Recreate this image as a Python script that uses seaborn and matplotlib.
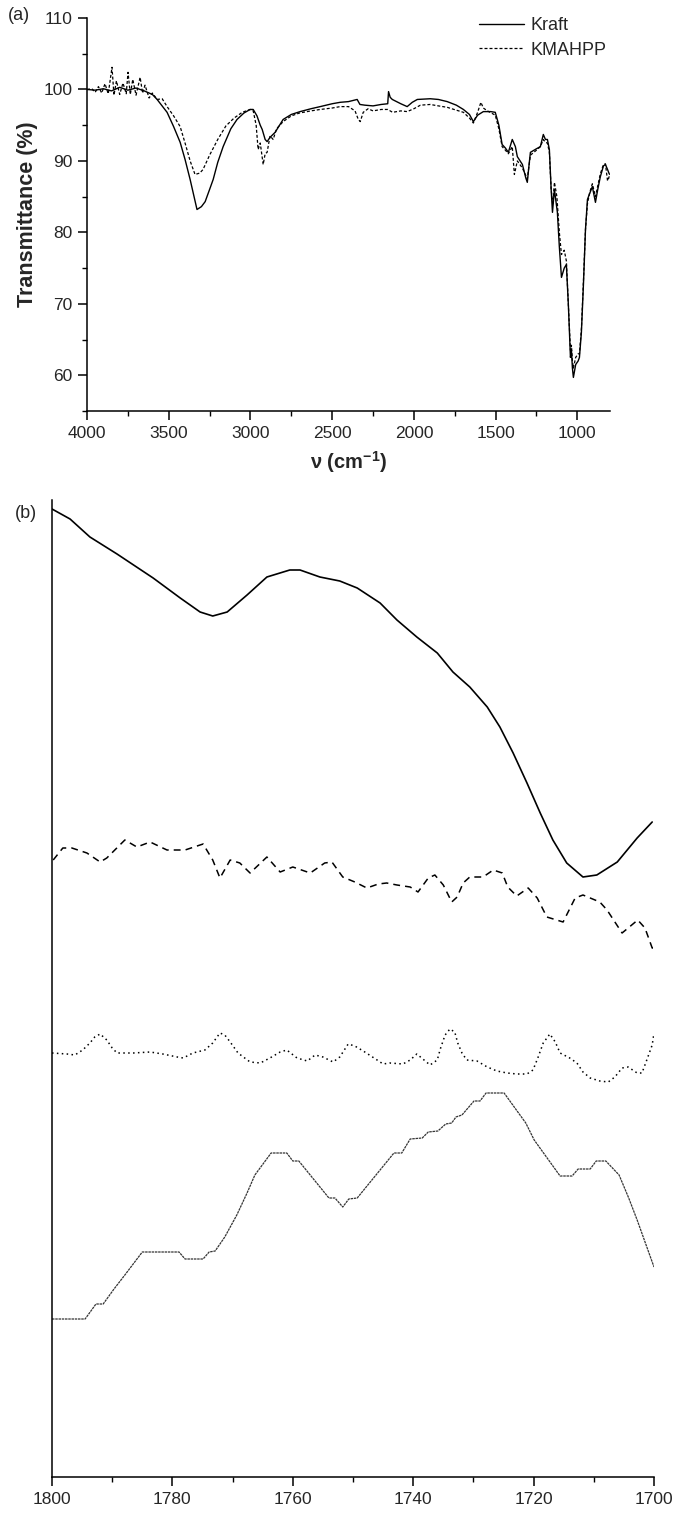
import numpy as np
import pandas as pd
import matplotlib
matplotlib.use("Agg")
import matplotlib.pyplot as plt
from matplotlib.ticker import MultipleLocator
import seaborn as sns

# ---------------- Panel (a) data: FTIR spectra ----------------
kraft_wn = [4000, 3950, 3900, 3850, 3800, 3750, 3700, 3650, 3600, 3571, 3510, 3470, 3430, 3400,
            3369, 3340, 3327, 3300, 3277, 3250, 3228, 3200, 3167, 3120, 3082, 3040, 3002, 2983,
            2960, 2940, 2928, 2910, 2898, 2880, 2849, 2800, 2750, 2696, 2630, 2573, 2500, 2451,
            2400, 2347, 2330, 2300, 2250, 2200, 2160, 2155, 2145, 2132, 2080, 2041, 2010, 1979,
            1900, 1850, 1796, 1740, 1697, 1660, 1636, 1610, 1575, 1530, 1502, 1480, 1460, 1440,
            1422, 1398, 1379, 1367, 1336, 1315, 1306, 1295, 1287, 1250, 1226, 1208, 1195, 1183,
            1171, 1160, 1152, 1140, 1122, 1110, 1097, 1080, 1067, 1055, 1042, 1036, 1030, 1024,
            1010, 995, 987, 975, 962, 950, 938, 925, 908, 889, 875, 859, 840, 828, 815, 805, 800]
kraft_t = [100.0, 99.9, 100.1, 99.8, 100.3, 99.9, 100.2, 99.8, 99.3, 98.6, 96.8, 94.8, 92.6, 90.2,
           87.4, 84.5, 83.2, 83.6, 84.3, 86.0, 87.4, 89.8, 92.0, 94.5, 95.8, 96.7, 97.2, 97.2,
           96.3, 95.0, 94.4, 93.0, 92.7, 93.3, 94.0, 95.8, 96.5, 96.9, 97.3, 97.6, 98.0, 98.2,
           98.3, 98.6, 97.9, 97.8, 97.7, 97.9, 98.0, 99.7, 98.9, 98.6, 98.0, 97.6, 98.2, 98.6,
           98.7, 98.6, 98.3, 97.8, 97.2, 96.5, 95.5, 96.4, 96.9, 96.9, 96.8, 95.0, 92.3, 91.8,
           91.2, 93.0, 92.0, 90.6, 89.5, 87.6, 87.0, 89.5, 91.2, 91.7, 92.0, 93.7, 93.0, 93.0,
           91.6, 86.0, 82.8, 86.0, 82.8, 78.0, 73.7, 75.0, 75.5, 70.0, 62.5, 63.5, 61.0, 59.7,
           61.5, 62.0, 62.5, 66.0, 73.0, 80.4, 84.6, 85.4, 86.4, 84.2, 86.0, 87.8, 89.3, 89.5,
           88.8, 88.2, 88.1]

kmahpp_wn = [4000, 3970, 3950, 3930, 3910, 3890, 3870, 3847, 3835, 3820, 3800, 3780, 3760, 3749,
             3735, 3720, 3700, 3675, 3660, 3645, 3620, 3600, 3571, 3540, 3510, 3470, 3430, 3400,
             3369, 3339, 3310, 3290, 3250, 3200, 3150, 3100, 3050, 3002, 2983, 2965, 2953, 2940,
             2922, 2910, 2898, 2880, 2861, 2840, 2800, 2750, 2700, 2630, 2573, 2500, 2451, 2400,
             2360, 2340, 2328, 2310, 2280, 2250, 2200, 2160, 2130, 2080, 2041, 2000, 1960, 1900,
             1850, 1796, 1740, 1697, 1660, 1636, 1610, 1590, 1575, 1550, 1502, 1480, 1460, 1440,
             1422, 1398, 1385, 1367, 1336, 1306, 1287, 1250, 1226, 1208, 1195, 1183, 1171, 1160,
             1150, 1140, 1125, 1110, 1097, 1080, 1067, 1055, 1042, 1036, 1030, 1024, 1010, 995,
             987, 975, 962, 950, 938, 925, 908, 889, 875, 859, 840, 828, 815, 805, 800]
kmahpp_t = [100.0, 100.1, 99.6, 100.4, 99.5, 100.8, 99.4, 103.1, 99.2, 101.2, 99.3, 100.9, 99.4, 102.4,
            99.3, 101.4, 99.2, 101.7, 99.5, 100.6, 98.8, 99.5, 98.6, 98.7, 97.6, 96.3, 94.8, 92.5,
            90.0, 88.1, 88.3, 88.8, 90.8, 93.0, 94.9, 96.0, 96.8, 97.2, 97.0, 95.0, 91.6, 92.5,
            89.5, 91.0, 91.2, 93.5, 93.0, 94.5, 95.5, 96.3, 96.7, 97.0, 97.2, 97.4, 97.6, 97.6,
            97.0, 95.8, 95.5, 96.8, 97.3, 97.0, 97.2, 97.2, 96.8, 97.0, 96.9, 97.3, 97.8, 97.9,
            97.7, 97.5, 97.1, 96.8, 96.0, 95.3, 96.8, 98.2, 97.4, 97.0, 96.4, 94.5, 92.0, 91.5,
            91.0, 92.0, 88.1, 90.0, 89.0, 87.5, 90.8, 91.5, 92.0, 93.0, 92.6, 92.5, 91.2, 86.0,
            84.0, 87.0, 85.0, 80.0, 76.9, 77.5, 76.0, 70.0, 63.5, 64.2, 62.0, 61.0, 62.5, 63.0,
            63.0, 66.5, 73.5, 80.4, 84.0, 85.5, 86.8, 85.0, 86.5, 88.2, 89.5, 89.6, 87.2, 87.8, 87.5]

series_a = ["Kraft", "KMAHPP"]

# ---------------- Panel (b) data: 1800-1700 cm-1 region (arbitrary offset units) ----------------
b1_wn = [1800.0, 1797.0, 1793.7, 1789.2, 1783.2, 1778.7, 1775.4, 1773.3, 1770.9, 1767.6, 1764.3,
         1760.5, 1758.8, 1755.5, 1752.2, 1749.3, 1745.5, 1742.7, 1739.4, 1736.0, 1733.4, 1730.6,
         1727.7, 1725.6, 1723.4, 1721.1, 1718.9, 1716.8, 1714.5, 1711.8, 1709.5, 1706.1, 1702.8,
         1700.3]
b1_val = [96.8, 95.8, 94.0, 92.3, 89.9, 87.9, 86.5, 86.1, 86.5, 88.2, 90.0, 90.7, 90.7, 90.0, 89.6,
          88.9, 87.4, 85.7, 84.0, 82.4, 80.5, 79.0, 77.0, 75.0, 72.4, 69.4, 66.4, 63.7, 61.4, 60.0,
          60.2, 61.5, 63.9, 65.5]

b2_wn = [1799.8, 1798.2, 1796.7, 1794.2, 1792.0, 1790.9, 1787.9, 1785.9, 1783.7, 1780.9, 1777.9,
         1774.9, 1773.3, 1772.1, 1770.4, 1768.8, 1767.1, 1764.3, 1762.1, 1760.0, 1757.1, 1754.7,
         1753.5, 1751.7, 1749.7, 1747.7, 1745.8, 1744.4, 1742.7, 1740.5, 1739.2, 1737.5, 1736.4,
         1735.0, 1733.6, 1732.7, 1731.7, 1730.6, 1728.4, 1726.7, 1725.2, 1724.3, 1722.8, 1720.9,
         1719.4, 1717.8, 1715.1, 1713.1, 1711.8, 1709.0, 1707.8, 1705.3, 1702.7, 1701.5, 1700.3,
         1700.0]
b2_val = [61.7, 62.9, 62.9, 62.4, 61.5, 61.9, 63.7, 63.0, 63.5, 62.7, 62.7, 63.3, 61.7, 59.9, 61.7,
          61.4, 60.4, 62.0, 60.5, 61.0, 60.4, 61.4, 61.5, 60.0, 59.5, 58.9, 59.3, 59.4, 59.2, 59.0,
          58.5, 59.9, 60.2, 59.2, 57.5, 58.0, 59.4, 60.0, 60.0, 60.7, 60.4, 59.0, 58.1, 58.9, 57.9,
          56.0, 55.5, 57.9, 58.2, 57.5, 56.7, 54.4, 55.7, 54.9, 52.9, 52.9]

b3_wn = [1800.0, 1797.5, 1796.2, 1794.9, 1793.7, 1792.9, 1792.0, 1790.9, 1790.0, 1789.2, 1786.5,
         1783.7, 1781.6, 1779.2, 1778.2, 1776.6, 1774.6, 1773.3, 1772.1, 1771.3, 1770.4, 1769.1,
         1767.1, 1765.4, 1763.8, 1762.1, 1761.0, 1759.3, 1757.6, 1756.3, 1755.0, 1753.3, 1752.2,
         1750.8, 1749.7, 1748.3, 1746.0, 1745.0, 1743.9, 1741.7, 1740.5, 1739.4, 1738.4, 1737.2,
         1736.0, 1735.5, 1734.7, 1733.9, 1733.1, 1732.6, 1731.9, 1731.1, 1729.4, 1727.7, 1726.1,
         1724.4, 1722.8, 1721.1, 1720.1, 1719.3, 1718.4, 1717.3, 1716.4, 1715.6, 1714.0, 1712.8,
         1711.8, 1710.6, 1709.0, 1707.6, 1706.5, 1705.3, 1704.3, 1702.8, 1702.0, 1701.2, 1700.3,
         1700.0]
b3_val = [42.4, 42.3, 42.2, 42.7, 43.4, 44.0, 44.3, 43.7, 42.9, 42.4, 42.4, 42.5, 42.3, 42.0, 41.9,
          42.4, 42.7, 43.4, 44.4, 44.2, 43.5, 42.4, 41.5, 41.4, 41.9, 42.5, 42.7, 41.9, 41.6, 42.2,
          42.0, 41.5, 42.0, 43.3, 43.1, 42.6, 41.7, 41.3, 41.4, 41.3, 41.7, 42.3, 41.8, 41.2, 41.7,
          42.8, 44.2, 44.8, 44.5, 43.4, 42.4, 41.7, 41.6, 41.0, 40.6, 40.4, 40.3, 40.3, 40.7, 41.9,
          43.4, 44.3, 43.5, 42.4, 41.9, 41.4, 40.5, 39.9, 39.6, 39.5, 40.0, 40.9, 41.0, 40.4, 40.4,
          41.7, 43.2, 44.4]

b4_wn = [1800.0, 1794.5, 1792.7, 1791.5, 1789.7, 1787.9, 1785.0, 1778.9, 1777.9, 1774.9, 1773.9,
         1772.9, 1771.3, 1769.3, 1767.6, 1766.3, 1763.6, 1761.0, 1760.0, 1759.0, 1754.0, 1753.0,
         1751.7, 1750.7, 1749.3, 1743.2, 1741.9, 1740.5, 1738.5, 1737.5, 1735.9, 1734.6, 1733.6,
         1732.9, 1731.9, 1729.9, 1728.9, 1727.9, 1724.9, 1721.3, 1719.9, 1715.6, 1713.6, 1712.6,
         1710.6, 1709.6, 1708.0, 1705.8, 1704.2, 1702.8, 1700.0]
b4_val = [15.8, 15.8, 17.3, 17.3, 18.8, 20.2, 22.5, 22.5, 21.8, 21.8, 22.5, 22.6, 24.0, 26.2, 28.4,
          30.2, 32.4, 32.4, 31.6, 31.6, 27.9, 27.9, 27.0, 27.8, 27.9, 32.4, 32.4, 33.8, 33.9, 34.5,
          34.6, 35.3, 35.4, 36.0, 36.2, 37.6, 37.6, 38.4, 38.4, 35.4, 33.7, 30.1, 30.1, 30.8, 30.8,
          31.6, 31.6, 30.2, 27.9, 25.7, 21.0]

a_xticks = [4000, 3500, 3000, 2500, 2000, 1500, 1000]
a_yticks = [60, 70, 80, 90, 100, 110]
b_xticks = [1800, 1780, 1760, 1740, 1720, 1700]

# ---------------- Style ----------------
sns.set_theme(style="ticks")
plt.rcParams["font.family"] = ["Liberation Sans", "DejaVu Sans"]
plt.rcParams["mathtext.fontset"] = "custom"
plt.rcParams["mathtext.rm"] = "Liberation Sans"
plt.rcParams["mathtext.bf"] = "Liberation Sans:bold"
plt.rcParams["axes.linewidth"] = 1.1
plt.rcParams["xtick.major.width"] = 1.1
plt.rcParams["ytick.major.width"] = 1.1
plt.rcParams["xtick.minor.width"] = 1.0
plt.rcParams["ytick.minor.width"] = 1.0

W, H = 677, 1513
fig = plt.figure(figsize=(W / 100, H / 100), dpi=100)
fig.patch.set_facecolor("white")

# ---------------- Panel (a) ----------------
axa = fig.add_axes([87 / W, 1 - 411 / H, (610 - 87) / W, (411 - 18) / H])
df_a = pd.concat([
    pd.DataFrame({"wn": kraft_wn, "T": kraft_t, "sample": series_a[0]}),
    pd.DataFrame({"wn": kmahpp_wn, "T": kmahpp_t, "sample": series_a[1]}),
])
sns.lineplot(data=df_a[df_a["sample"] == "Kraft"], x="wn", y="T", ax=axa, sort=False,
             estimator=None, color="black", lw=1.0, label="Kraft")
sns.lineplot(data=df_a[df_a["sample"] == "KMAHPP"], x="wn", y="T", ax=axa, sort=False,
             estimator=None, color="black", lw=0.9, linestyle=(0, (2.4, 1.6)), label="KMAHPP")
axa.set_xlim(4000, 800)
axa.set_ylim(55, 110)
axa.set_xticks(a_xticks)
axa.set_yticks(a_yticks)
axa.xaxis.set_minor_locator(MultipleLocator(250))
axa.yaxis.set_minor_locator(MultipleLocator(5))
axa.tick_params(which="major", direction="out", length=6.5, labelsize=12.5, color="black", pad=4)
axa.tick_params(which="minor", direction="out", length=3.5, color="black")
for s in ["top", "right"]:
    axa.spines[s].set_visible(False)
for s in ["left", "bottom"]:
    axa.spines[s].set_color("black")
axa.set_xlabel(r"ν (cm$^{\mathbf{-1}}$)", fontsize=14.5, fontweight="bold", labelpad=6)
axa.set_ylabel("Transmittance (%)", fontsize=15.5, fontweight="bold", labelpad=4)
axa.set_facecolor("white")
leg = axa.legend(loc="upper left", bbox_to_anchor=(479 / W, 1 - 17 / H),
                 bbox_transform=fig.transFigure, frameon=False, fontsize=13,
                 handlelength=2.5, handletextpad=0.35, labelspacing=0.42,
                 borderpad=0, borderaxespad=0)

# ---------------- Panel (b) ----------------
axb = fig.add_axes([52 / W, 1 - 1477 / H, (654 - 52) / W, (1477 - 500) / H])
sns.lineplot(x=b1_wn, y=b1_val, ax=axb, sort=False, estimator=None, color="black", lw=1.2)
sns.lineplot(x=b2_wn, y=b2_val, ax=axb, sort=False, estimator=None, color="black", lw=1.1,
             linestyle=(0, (4.5, 3.3)))
sns.lineplot(x=b3_wn, y=b3_val, ax=axb, sort=False, estimator=None, color="black", lw=1.1,
             linestyle=(0, (1.0, 2.2)))
sns.lineplot(x=b4_wn, y=b4_val, ax=axb, sort=False, estimator=None, color="#333333", lw=0.9,
             linestyle=(0, (2.0, 0.6)))
axb.set_xlim(1800, 1700)
axb.set_ylim(0, 97.7)
axb.set_xticks(b_xticks)
axb.xaxis.set_minor_locator(MultipleLocator(10))
axb.tick_params(axis="x", which="major", direction="out", length=6.5, labelsize=12.5,
                color="black", pad=4)
axb.tick_params(axis="x", which="minor", direction="out", length=3.5, color="black")
axb.tick_params(axis="y", which="both", left=False, labelleft=False)
for s in ["top", "right"]:
    axb.spines[s].set_visible(False)
for s in ["left", "bottom"]:
    axb.spines[s].set_color("black")
axb.set_xlabel("")
axb.set_ylabel("")
axb.set_facecolor("white")

fig.text(8 / W, 1 - 15 / H, "(a)", fontsize=13, va="center", ha="left")
fig.text(15 / W, 1 - 514 / H, "(b)", fontsize=13, va="center", ha="left")

fig.savefig("out.png", dpi=100, facecolor="white")
